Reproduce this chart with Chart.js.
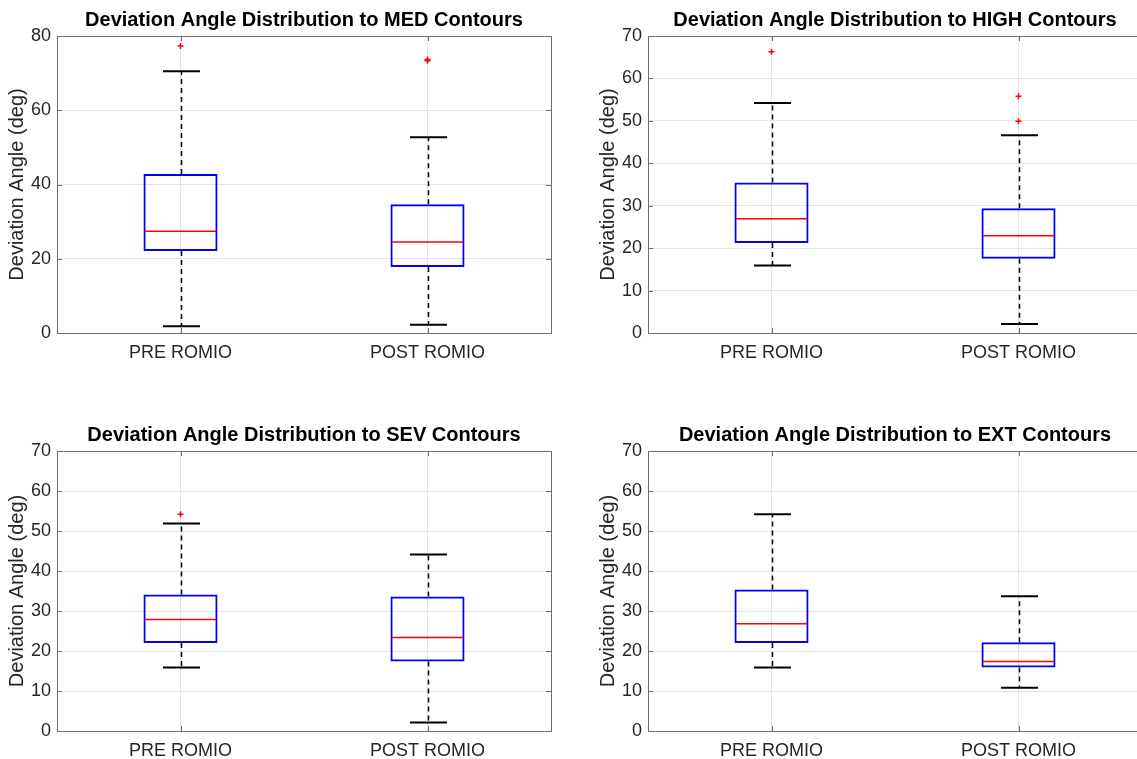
<!DOCTYPE html>
<html>
<head>
<meta charset="utf-8">
<script src="https://cdn.jsdelivr.net/npm/chart.js@4"></script>
<style>
  html, body { margin: 0; padding: 0; background: #fff; overflow: hidden; width: 1137px; height: 759px; }
  canvas { position: absolute; }
</style>
</head>
<body>
<canvas id="med" width="560" height="380" style="left:0px;top:0px"></canvas>
<canvas id="high" width="560" height="380" style="left:591px;top:0px"></canvas>
<canvas id="sev" width="560" height="363" style="left:0px;top:415px"></canvas>
<canvas id="ext" width="560" height="363" style="left:591px;top:415px"></canvas>
<script>
'use strict';

// groups on the x axis
const categories = ['PRE ROMIO', 'POST ROMIO'];

// y tick labels
const medTicks = [0, 20, 40, 60, 80];
const otherTicks = [0, 10, 20, 30, 40, 50, 60, 70];

// MED contours
const medMin = [1.8, 2.2];
const medQ1 = [22.1, 17.8];
const medMedian = [27.4, 24.5];
const medQ3 = [42.8, 34.7];
const medMax = [70.5, 52.7];
const medOutliers = [[77.3], [73.3, 73.7]];

// HIGH contours
const highMin = [15.9, 2.1];
const highQ1 = [21.2, 17.5];
const highMedian = [26.9, 22.9];
const highQ3 = [35.5, 29.4];
const highMax = [54.2, 46.6];
const highOutliers = [[66.3], [49.9, 55.8]];

// SEV contours
const sevMin = [15.9, 2.1];
const sevQ1 = [22.0, 17.4];
const sevMedian = [27.9, 23.4];
const sevQ3 = [34.1, 33.6];
const sevMax = [51.9, 44.1];
const sevOutliers = [[54.2], []];

// EXT contours
const extMin = [15.9, 10.8];
const extQ1 = [22.0, 15.9];
const extMedian = [26.8, 17.4];
const extQ3 = [35.4, 22.2];
const extMax = [54.2, 33.7];
const extOutliers = [[], []];

const FONT = "'Liberation Sans', Arial, Helvetica, sans-serif";
const TEXT = '#262626';

// whiskers, caps and medians drawn with the chart's own scales
const boxExtras = {
  id: 'boxExtras',
  beforeDatasetsDraw(chart) {
    const s = chart.config.options.boxData;
    const x = chart.scales.x, y = chart.scales.y;
    const ctx = chart.ctx;
    const unit = Math.abs(x.getPixelForValue(1) - x.getPixelForValue(0));
    const capHalf = unit * 0.075;
    ctx.save();
    ctx.strokeStyle = '#000';
    for (let i = 0; i < categories.length; i++) {
      const cx = Math.round(x.getPixelForValue(i)) + 0.5;
      ctx.lineWidth = 1.5;
      ctx.setLineDash([5, 4]);
      ctx.beginPath();
      ctx.moveTo(cx, y.getPixelForValue(s.q3[i]));
      ctx.lineTo(cx, y.getPixelForValue(s.max[i]));
      ctx.moveTo(cx, y.getPixelForValue(s.q1[i]));
      ctx.lineTo(cx, y.getPixelForValue(s.min[i]));
      ctx.stroke();
      ctx.setLineDash([]);
      ctx.lineWidth = 2;
      ctx.beginPath();
      ctx.moveTo(cx - capHalf, y.getPixelForValue(s.max[i]));
      ctx.lineTo(cx + capHalf, y.getPixelForValue(s.max[i]));
      ctx.moveTo(cx - capHalf, y.getPixelForValue(s.min[i]));
      ctx.lineTo(cx + capHalf, y.getPixelForValue(s.min[i]));
      ctx.stroke();
    }
    ctx.restore();
  },
  afterDatasetsDraw(chart) {
    const s = chart.config.options.boxData;
    const x = chart.scales.x, y = chart.scales.y;
    const ctx = chart.ctx;
    const unit = Math.abs(x.getPixelForValue(1) - x.getPixelForValue(0));
    const boxHalf = unit * 0.15 - 1.5;
    ctx.save();
    ctx.strokeStyle = '#ff0000';
    ctx.lineWidth = 1.5;
    for (let i = 0; i < categories.length; i++) {
      const cx = x.getPixelForValue(i);
      const my = y.getPixelForValue(s.median[i]);
      ctx.beginPath();
      ctx.moveTo(cx - boxHalf, my);
      ctx.lineTo(cx + boxHalf, my);
      ctx.stroke();
    }
    ctx.restore();
  },
  afterDraw(chart) {
    // MATLAB style box with inward ticks
    const {ctx, chartArea: a} = chart;
    const x = chart.scales.x, y = chart.scales.y;
    ctx.save();
    ctx.strokeStyle = '#6e6e6e';
    ctx.lineWidth = 1;
    ctx.strokeRect(Math.round(a.left) + 0.5, Math.round(a.top) + 0.5,
      Math.round(a.right - a.left), Math.round(a.bottom - a.top));
    ctx.beginPath();
    y.ticks.forEach(t => {
      const py = Math.round(y.getPixelForValue(t.value)) + 0.5;
      ctx.moveTo(a.left, py); ctx.lineTo(a.left + 5, py);
      ctx.moveTo(a.right, py); ctx.lineTo(a.right - 5, py);
    });
    for (let i = 0; i < categories.length; i++) {
      const px = Math.round(x.getPixelForValue(i)) + 0.5;
      ctx.moveTo(px, a.bottom); ctx.lineTo(px, a.bottom - 5);
      ctx.moveTo(px, a.top); ctx.lineTo(px, a.top + 5);
    }
    ctx.stroke();
    ctx.restore();
  }
};

function makeBoxplot(canvasId, title, min, q1, median, q3, max, outliers, yTicks) {
  let outlierPoints = [];
  outliers.forEach((list, i) => {
    list.forEach(v => outlierPoints.push({x: categories[i], y: v}));
  });

  return new Chart(document.getElementById(canvasId), {
    type: 'bar',
    data: {
      labels: categories,
      datasets: [
        {
          label: 'Box',
          data: categories.map((c, i) => [q1[i], q3[i]]),
          backgroundColor: 'rgba(0,0,0,0)',
          borderColor: '#0000ff',
          borderWidth: 2,
          borderSkipped: false,
          barPercentage: 0.3,
          categoryPercentage: 1
        },
        {
          type: 'scatter',
          label: 'Outliers',
          data: outlierPoints,
          pointStyle: 'cross',
          pointRadius: 3,
          pointBorderWidth: 1.5,
          borderColor: '#ff0000',
          backgroundColor: '#ff0000'
        }
      ]
    },
    options: {
      responsive: false,
      animation: false,
      boxData: {min: min, q1: q1, median: median, q3: q3, max: max},
      layout: {padding: {left: 0, right: 9, top: 0, bottom: 0}},
      plugins: {
        legend: {display: false},
        tooltip: {enabled: false},
        title: {
          display: true,
          text: title,
          fullSize: false,
          color: '#000',
          font: {family: FONT, size: 20, weight: 'bold'},
          padding: {top: 8, bottom: 4}
        }
      },
      scales: {
        x: {
          type: 'category',
          offset: true,
          grid: {color: '#e3e3e3', offset: false, drawTicks: false},
          border: {display: false},
          ticks: {color: TEXT, font: {family: FONT, size: 18}, padding: 9},
          afterFit: s => { s.height = 47; }
        },
        y: {
          min: yTicks[0],
          max: yTicks[yTicks.length - 1],
          grid: {color: '#e3e3e3', drawTicks: false},
          border: {display: false},
          ticks: {color: TEXT, font: {family: FONT, size: 18}, padding: 6},
          afterBuildTicks: s => { s.ticks = yTicks.map(v => ({value: v})); },
          title: {
            display: true,
            text: 'Deviation Angle (deg)',
            color: TEXT,
            font: {family: FONT, size: 20},
            padding: {top: 5, bottom: 0}
          },
          afterFit: s => { s.width = 57; }
        }
      }
    },
    plugins: [boxExtras]
  });
}

makeBoxplot('med', 'Deviation Angle Distribution to MED Contours',
  medMin, medQ1, medMedian, medQ3, medMax, medOutliers, medTicks);
makeBoxplot('high', 'Deviation Angle Distribution to HIGH Contours',
  highMin, highQ1, highMedian, highQ3, highMax, highOutliers, otherTicks);
makeBoxplot('sev', 'Deviation Angle Distribution to SEV Contours',
  sevMin, sevQ1, sevMedian, sevQ3, sevMax, sevOutliers, otherTicks);
makeBoxplot('ext', 'Deviation Angle Distribution to EXT Contours',
  extMin, extQ1, extMedian, extQ3, extMax, extOutliers, otherTicks);
</script>
</body>
</html>
